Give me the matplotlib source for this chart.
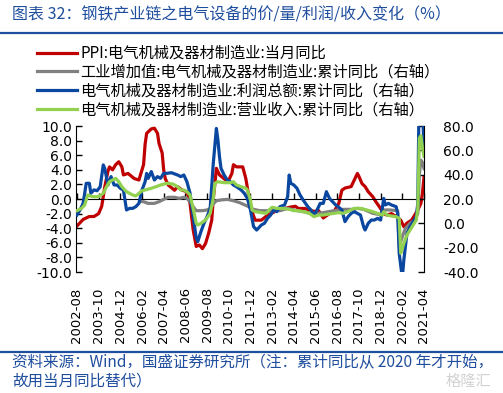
import numpy as np
import matplotlib.pyplot as plt
from matplotlib.lines import Line2D

plt.rcParams['font.family'] = ['Noto Sans CJK SC', 'DejaVu Sans']

# 横轴: 自 2002-08 起的月数
start = np.datetime64('2002-08', 'M')
tick_labels = ['2002-08', '2003-10', '2004-12', '2006-02', '2007-04', '2008-06',
               '2009-08', '2010-10', '2011-12', '2013-02', '2014-04', '2015-06',
               '2016-08', '2017-10', '2018-12', '2020-02', '2021-04']

# PPI:电气机械及器材制造业:当月同比 (左轴)
ppi_m = [0, 4, 8, 11, 14, 16, 18, 20, 21, 23, 25, 27, 29, 30, 33, 37, 40, 42, 43, 44,
         45, 48, 50, 52, 53, 55, 56, 57, 59, 63, 65, 68, 71, 73, 75, 77, 79, 81, 83, 85,
         87, 88, 89, 90, 92, 96, 98, 100, 101, 103, 107, 109, 111, 113, 115, 119, 122, 125, 129, 134,
         138, 141, 143, 147, 150, 153, 156, 159, 163, 166, 169, 171, 173, 177, 179, 181, 182, 184, 186, 188,
         191, 193, 195, 198, 200, 203, 206, 209, 211, 213, 216, 218, 220, 222, 223, 224]
ppi_v = [-3.7, -2.8, -2.4, -2.4, -2.0, -1.0, 1.7, 3.8, 4.4, 4.0, 4.7, 5.1, 4.4, 3.3, 3.5, 2.8, 2.6, 4.0, 4.7, 7.5,
         9.0, 9.6, 9.7, 9.0, 7.6, 6.3, 4.0, 2.8, 1.9, 1.2, 1.7, 1.2, 1.0, -0.6, -4.2, -6.5, -6.3, -6.8, -6.1, -4.7,
         -2.9, 0.0, 2.0, 4.2, 3.3, 2.6, 2.6, 3.5, 4.7, 4.4, 4.4, 2.8, 0.3, -1.7, -2.9, -2.9, -2.4, -2.0, -1.6, -1.3,
         -1.1, -1.0, -1.3, -1.3, -1.5, -1.7, -1.6, -2.6, -2.0, -1.7, -0.6, 1.2, 1.5, 1.7, 2.6, 3.5, 3.1, 2.1, 1.7, 1.0,
         0.3, -0.4, -1.0, -2.0, -2.2, -2.0, -2.4, -2.9, -3.8, -3.3, -2.9, -2.2, -1.5, -0.6, 0.8, 3.0]

# 工业增加值:累计同比 (右轴)
iva_m = [41, 43, 46, 50, 53, 56, 59, 63, 66, 69, 71, 73, 75, 77, 81, 84, 86, 88, 90, 93,
         97, 101, 105, 110, 114, 118, 123, 127, 131, 134, 136, 140, 146, 153, 159, 166, 172, 179, 181, 185,
         191, 197, 198, 202, 207, 208, 210, 212, 215, 218, 220, 221, 222, 223, 224]
iva_v = [18, 17.8, 16.4, 16.4, 17.8, 19.7, 21.4, 21.4, 20.5, 21.4, 20.5, 17.8, 13.7, 10.4, 10.4, 11, 12.3, 16, 18.6, 19.2,
         19.7, 18.6, 17, 14.2, 11.5, 10.4, 10.4, 10.4, 10.4, 11.5, 12.3, 11, 9.6, 7.7, 8.8, 10.4, 11.5, 11.5, 12.3, 11.5,
         8.2, 6.8, 11, 11, 10.4, -19, -11, -4.1, 0, 2.7, 8.2, 40, 52, 50, 45]

# 利润总额:累计同比 (右轴)
profit_m = [0, 2, 4, 6, 8, 9, 11, 13, 15, 17, 18, 20, 22, 24, 26, 28, 30, 32, 34, 36,
            38, 40, 42, 44, 45, 46, 48, 50, 52, 54, 56, 58, 61, 65, 67, 69, 71, 73, 75, 77,
            78, 80, 82, 84, 86, 88, 90, 91, 92, 93, 95, 97, 99, 101, 103, 106, 108, 110, 112, 114,
            115, 116, 119, 121, 123, 125, 127, 129, 131, 134, 136, 137, 138, 140, 142, 144, 146, 149, 151, 153,
            155, 157, 159, 161, 163, 165, 167, 169, 171, 173, 175, 177, 179, 181, 183, 185, 186, 188, 190, 192,
            194, 196, 198, 199, 201, 203, 206, 207, 208, 210, 211, 213, 215, 217, 219, 220, 221, 222, 223, 224]
profit_v = [6.8, 11, 16.4, 32.9, 32.9, 24.7, 27.5, 26.8, 30, 48, 45, 31.5, 38.4, 31.5, 31.5, 28.8, 27.4, 11, 12.3, 12.3,
            13.7, 16.4, 27.4, 34.2, 41, 37, 42.5, 35.6, 38.4, 37, 41.1, 41.1, 41.6, 39.7, 38.4, 39.7, 34.2, 24.7, 5.5, -12,
            -15, -7, 0, 5.5, 12.3, 49.3, 78, 68.5, 54.8, 45.2, 39.7, 35.6, 34.2, 31.5, 30.1, 27.4, 24.7, 20.5, 11, -2.7,
            -4.1, -5.5, -1.4, 0, 4.1, 6.8, 11, 9.6, 13.7, 15.1, 21.9, 39.7, 32.9, 31.5, 28.8, 23.3, 19.2, 13.7, 11, 6.8,
            11, 16.4, 16.4, 26, 20.5, 17.8, 15.1, 13.2, 11, 1.4, 5.5, 8.2, 9.6, 8.2, 6.8, -2.7, -5.5, 0, 2.7, 2.7,
            4.1, 2.7, 20.5, 15.1, 16.4, 15.1, 13.7, 8.2, -24.7, -45, -30, -8.2, -2.7, 1.4, 5.5, 16.4, 120, 130, 95, 62]

# 营业收入:累计同比 (右轴)
rev_m = [0, 3, 5, 7, 10, 14, 17, 19, 21, 23, 25, 27, 29, 32, 36, 38, 40, 42, 44, 48,
         51, 54, 58, 62, 65, 67, 69, 71, 73, 75, 77, 78, 80, 83, 86, 88, 89, 91, 95, 99,
         101, 103, 106, 109, 110, 112, 113, 115, 119, 122, 124, 126, 129, 133, 137, 140, 143, 146, 150, 153,
         156, 159, 163, 166, 169, 172, 176, 179, 183, 187, 191, 194, 197, 198, 200, 203, 206, 208, 209, 211,
         213, 215, 217, 219, 220, 221, 222, 223, 224]
rev_v = [10.4, 12.3, 15.1, 23.3, 21.9, 21.9, 24.7, 30, 34.2, 35.6, 37, 34.2, 30.1, 26, 23.3, 22.5, 24.7, 26.8, 27.4, 28.8,
         30.1, 31.5, 32.9, 32.3, 30.1, 27.4, 27.4, 26, 23.3, 12.3, 0, -1.4, 0, 2.7, 8.2, 20.5, 32.9, 34.2, 33.4, 33.4,
         34.2, 31.5, 30.1, 28.8, 27.4, 19.2, 11, 9.6, 8.8, 8.2, 11, 13.2, 12.3, 12.3, 11.5, 10.4, 10.4, 9.6, 8.2, 5.5,
         6.8, 6.8, 7.7, 8.2, 8.8, 8.2, 10.4, 12.3, 12.3, 11, 9.6, 8.2, 6.8, 9.6, 6.8, 6, 5.5, 4.1, -24.7, -16.4,
         -9.6, -5.5, -1.4, 2.7, 12, 70, 72, 62, 55]

labels = ['PPI:电气机械及器材制造业:当月同比',
          '工业增加值:电气机械及器材制造业:累计同比（右轴）',
          '电气机械及器材制造业:利润总额:累计同比（右轴）',
          '电气机械及器材制造业:营业收入:累计同比（右轴）']
colors = ['#C00000', '#808080', '#0A47A0', '#92D050']

W, H = 503, 393
fig = plt.figure(figsize=(W / 100, H / 100), dpi=100)
ax = fig.add_axes([76 / W, 121 / H, 348 / W, 146 / H])
ax2 = ax.twinx()

lw = 2.3
l_ppi, = ax.plot(ppi_m, ppi_v, color=colors[0], lw=lw)
l_iva, = ax2.plot(iva_m, iva_v, color=colors[1], lw=lw)
l_pro, = ax2.plot(profit_m, profit_v, color=colors[2], lw=lw)
l_rev, = ax2.plot(rev_m, rev_v, color=colors[3], lw=lw)

ticks = [int((np.datetime64(t, 'M') - start).astype(int)) for t in tick_labels]
ax.set_xlim(-0.6, 224)
ax.set_ylim(-10, 10)
ax2.set_ylim(-40, 80)
ax.set_yticks(np.arange(-10, 10.1, 2))
ax.set_yticklabels(['%.1f' % v for v in np.arange(-10, 10.1, 2)])
ax2.set_yticks(np.arange(-40, 80.1, 20))
ax2.set_yticklabels(['%.1f' % v for v in np.arange(-40, 80.1, 20)])

# 横轴线在0处, 刻度向上; 标签放在底部
ax.spines['bottom'].set_position(('data', 0))
ax.spines['top'].set_visible(False)
ax.spines['right'].set_visible(False)
for s in ['top', 'bottom', 'left']:
    ax2.spines[s].set_visible(False)
ax.set_xticks(ticks)
ax.tick_params(axis='x', direction='in', length=4, width=1, labelbottom=False)
ax.tick_params(axis='y', direction='in', length=4, width=1, labelsize=10, pad=3)
ax2.tick_params(axis='y', direction='in', length=4, width=1, labelsize=10, pad=14)

sec = ax.secondary_xaxis('bottom')
sec.set_xticks(ticks, tick_labels, rotation=90, fontsize=9.5, family='DejaVu Sans')
sec.tick_params(length=0, pad=11)
sec.spines['bottom'].set_visible(False)

for t in ax.get_yticklabels() + ax2.get_yticklabels():
    t.set_family('DejaVu Sans')

fig.legend([l_ppi, l_iva, l_pro, l_rev], labels, loc='upper left',
           bbox_to_anchor=(37 / W, 1 - 45 / H), frameon=False, fontsize=11,
           handlelength=2.6, handletextpad=0.25, labelspacing=0.12,
           borderpad=0, borderaxespad=0)

title_c = '#1F4E9E'
fig.text(12 / W, 1 - 15 / H, '图表 32：钢铁产业链之电气设备的价/量/利润/收入变化（%）',
         fontsize=11.5, style='italic', color=title_c, va='center')
fig.add_artist(Line2D([0, 1], [1 - 33 / H] * 2, color=title_c, lw=1.6))
fig.add_artist(Line2D([0, 1], [1 - 352 / H] * 2, color=title_c, lw=1.6))
fig.text(12 / W, 1 - 363 / H, '资料来源：Wind，国盛证券研究所（注：累计同比从 2020 年才开始，',
         fontsize=11.2, style='italic', color=title_c, va='center')
fig.text(12 / W, 1 - 381 / H, '故用当月同比替代）',
         fontsize=11.2, style='italic', color=title_c, va='center')
fig.text(468 / W, 1 - 381 / H, '格隆汇', fontsize=11, color='#D2D2D2', ha='center', va='center')

fig.savefig('out.png', dpi=100)
